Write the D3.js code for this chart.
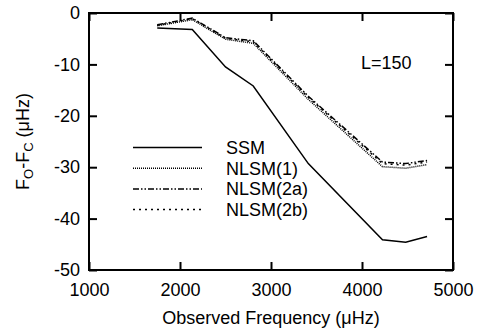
<!DOCTYPE html>
<meta charset="utf-8">
<style>
body { margin: 0; background: #fff; }
svg { font-family: "Liberation Sans", Arial, sans-serif; }
.axis text { font-size: 18px; fill: #000; }
.axis line { stroke: #000; stroke-width: 2; }
.axis path { display: none; }
.series { fill: none; stroke: #000; stroke-width: 1.5; }
</style>
<body>
<script src="https://cdn.jsdelivr.net/npm/d3@7/dist/d3.min.js"></script>
<script>

// observed frequencies (uHz), shared by all models
var freqs = [1750, 2135, 2500, 2805, 3410, 4225, 4480, 4715];

var ssm    = [-2.9, -3.2, -10.5, -14.2, -29.3, -44.1, -44.6, -43.5];
var nlsm1  = [-2.5, -1.3, -5.1, -5.9, -16.8, -29.9, -30.2, -29.5];
var nlsm2a = [-2.3, -1.0, -4.8, -5.4, -16.2, -29.0, -29.3, -28.7];
var nlsm2b = [-2.4, -1.1, -4.9, -5.6, -16.4, -29.3, -29.6, -29.0];

var seriesNames = ["SSM", "NLSM(1)", "NLSM(2a)", "NLSM(2b)"];
var dashes = [null, "1,1", "6,2,1.5,2,1.5,2", "2,4"];

var xTicks = [1000, 2000, 3000, 4000, 5000];
var yTicks = [0, -10, -20, -30, -40, -50];

var margin = {top: 13, right: 26, bottom: 61, left: 89},
    width = 479 - margin.left - margin.right,
    height = 331 - margin.top - margin.bottom;

var x = d3.scaleLinear().domain([1000, 5000]).range([0, width]);
var y = d3.scaleLinear().domain([-50, 0]).range([height, 0]);

var svg = d3.select("body").append("svg")
    .attr("width", 479)
    .attr("height", 331);

var g = svg.append("g")
    .attr("transform", "translate(" + margin.left + "," + margin.top + ")");

// axes, ticks pointing inward
g.append("g").attr("class", "axis")
    .attr("transform", "translate(0," + height + ")")
    .call(d3.axisBottom(x).tickValues(xTicks).tickSizeInner(-8).tickSizeOuter(0)
        .tickPadding(13).tickFormat(function(d) { return String(d); }));

g.append("g").attr("class", "axis")
    .call(d3.axisTop(x).tickValues(xTicks).tickSizeInner(-8).tickSizeOuter(0).tickFormat(""));

g.append("g").attr("class", "axis")
    .call(d3.axisLeft(y).tickValues(yTicks).tickSizeInner(-8).tickSizeOuter(0)
        .tickPadding(9).tickFormat(function(d) { return String(d); }));

g.append("g").attr("class", "axis")
    .attr("transform", "translate(" + width + ",0)")
    .call(d3.axisRight(y).tickValues(yTicks).tickSizeInner(-8).tickSizeOuter(0).tickFormat(""));

// frame
g.append("rect")
    .attr("width", width)
    .attr("height", height)
    .attr("fill", "none")
    .attr("stroke", "#000")
    .attr("stroke-width", 2);

var line = d3.line()
    .x(function(d) { return x(d[0]); })
    .y(function(d) { return y(d[1]); });

var allSeries = [ssm, nlsm1, nlsm2a, nlsm2b];

allSeries.forEach(function(vals, i) {
    g.append("path")
        .attr("class", "series")
        .attr("d", line(freqs.map(function(f, j) { return [f, vals[j]]; })))
        .attr("stroke-dasharray", dashes[i]);
});

// legend
var legend = g.append("g").attr("transform", "translate(44,134.5)");
seriesNames.forEach(function(name, i) {
    var ly = i * 20.7;
    legend.append("line")
        .attr("class", "series")
        .attr("x1", 0).attr("x2", 69)
        .attr("y1", ly).attr("y2", ly)
        .attr("stroke-dasharray", dashes[i]);
    legend.append("text")
        .attr("x", 93).attr("y", ly).attr("dy", "0.35em")
        .style("font-size", "18px")
        .text(name);
});

g.append("text")
    .attr("x", 272).attr("y", 56)
    .style("font-size", "18px")
    .text("L=150");

// axis titles
svg.append("text")
    .attr("x", margin.left + width / 2)
    .attr("y", 324)
    .attr("text-anchor", "middle")
    .style("font-size", "18px")
    .text("Observed Frequency (\u03bcHz)");

var yl = svg.append("text")
    .attr("transform", "translate(29," + (margin.top + height / 2) + ") rotate(-90)")
    .attr("text-anchor", "middle")
    .style("font-size", "18px");
yl.append("tspan").text("F");
yl.append("tspan").attr("dy", 4).style("font-size", "13px").text("O");
yl.append("tspan").attr("dy", -4).text("-F");
yl.append("tspan").attr("dy", 4).style("font-size", "13px").text("C");
yl.append("tspan").attr("dy", -4).text(" (\u03bcHz)");

</script>
